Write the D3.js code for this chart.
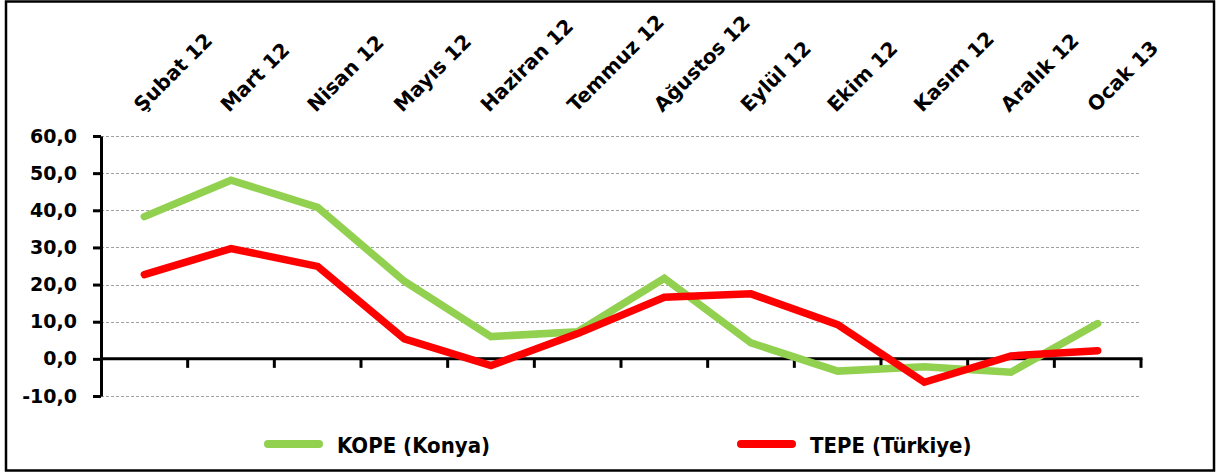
<!DOCTYPE html>
<html>
<head>
<meta charset="utf-8">
<script src="https://cdn.jsdelivr.net/npm/d3@7"></script>
<style>
  html, body { margin: 0; padding: 0; background: #fff; }
  svg { display: block; font-family: "DejaVu Sans", sans-serif; font-weight: bold; }
</style>
</head>
<body>
<svg id="chart" width="1218" height="475"></svg>
<script>
const categories = ["Şubat 12", "Mart 12", "Nisan 12", "Mayıs 12", "Haziran 12", "Temmuz 12",
  "Ağustos 12", "Eylül 12", "Ekim 12", "Kasım 12", "Aralık 12", "Ocak 13"];
const kope = [38.3, 48.1, 40.8, 20.9, 6.0, 7.3, 21.7, 4.3, -3.3, -2.1, -3.6, 9.5];
const tepe = [22.7, 29.7, 24.9, 5.4, -1.8, 6.8, 16.6, 17.5, 9.2, -6.3, 0.8, 2.2];
const yTicks = [-10, 0, 10, 20, 30, 40, 50, 60];
const seriesNames = ["KOPE (Konya)", "TEPE (Türkiye)"];
const seriesColors = ["#92D050", "#FF0000"];

const svg = d3.select("#chart");

// outer frame
svg.append("rect").attr("x", 6).attr("y", 1.5).attr("width", 1208).attr("height", 469)
  .attr("fill", "none").attr("stroke", "#000").attr("stroke-width", 2.5);

const x0 = 101, x1 = 1141;
const y = d3.scaleLinear().domain([-10, 60]).range([396, 136]);
const xBand = d3.scaleBand().domain(categories).range([x0, x1]).padding(0);
const xPt = d3.scalePoint().domain(categories).range([x0, x1]).padding(0.5);

// gridlines (dashed), skip 0 which is the axis
svg.append("g").selectAll("line").data(yTicks.filter(d => d !== 0)).join("line")
  .attr("x1", x0).attr("x2", x1)
  .attr("y1", d => Math.round(y(d)) + 0.5).attr("y2", d => Math.round(y(d)) + 0.5)
  .attr("stroke", "#a0a0a0").attr("stroke-width", 1).attr("stroke-dasharray", "3,2");

// y axis
const fmt = d => d3.format(".1f")(d).replace(".", ",").replace("−", "-");
const yAxis = d3.axisLeft(y).tickValues(yTicks).tickSize(8).tickSizeOuter(0).tickPadding(16).tickFormat(fmt);
const gy = svg.append("g").attr("transform", `translate(${x0},0)`).call(yAxis);
gy.select(".domain").attr("stroke", "#000").attr("stroke-width", 3);
gy.selectAll(".tick line").attr("stroke", "#000").attr("stroke-width", 3);
gy.selectAll(".tick text").attr("fill", "#000").style("font-size", "19px")
  .style("font-family", "'DejaVu Sans', sans-serif").style("font-weight", "bold");

// x axis at zero
const xAxisG = svg.append("g").attr("transform", `translate(0,${y(0)})`);
xAxisG.append("line").attr("x1", x0).attr("x2", x1 + 1.5).attr("stroke", "#000").attr("stroke-width", 3);
const edges = categories.map(c => xBand(c) + xBand.bandwidth());
xAxisG.selectAll("line.tk").data(edges).join("line").attr("class", "tk")
  .attr("x1", d => d).attr("x2", d => d).attr("y1", 0).attr("y2", 9)
  .attr("stroke", "#000").attr("stroke-width", 3);

// category labels at top, rotated
svg.append("g").selectAll("text").data(categories).join("text")
  .attr("transform", d => `translate(${xPt(d) - 2},113) rotate(-45)`)
  .attr("text-anchor", "start")
  .style("font-size", "20px")
  .attr("fill", "#000")
  .text(d => d);

// lines
const line = d3.line().x((d, i) => xPt(categories[i])).y(d => y(d));
[kope, tepe].forEach((s, k) => {
  svg.append("path").datum(s).attr("d", line)
    .attr("fill", "none").attr("stroke", seriesColors[k]).attr("stroke-width", 7.5)
    .attr("stroke-linecap", "round").attr("stroke-linejoin", "miter");
});

// legend
const legendX = [264, 737];
seriesNames.forEach((n, k) => {
  const g = svg.append("g").attr("transform", `translate(${legendX[k]},444)`);
  g.append("line").attr("x1", 4).attr("x2", 55).attr("stroke", seriesColors[k])
    .attr("stroke-width", 8).attr("stroke-linecap", "round");
  g.append("text").attr("x", 73).attr("y", 9)
    .style("font-family", "'DejaVu Sans Condensed', 'DejaVu Sans', sans-serif")
    .style("font-size", "22px").attr("fill", "#000").text(n);
});
</script>
</body>
</html>
